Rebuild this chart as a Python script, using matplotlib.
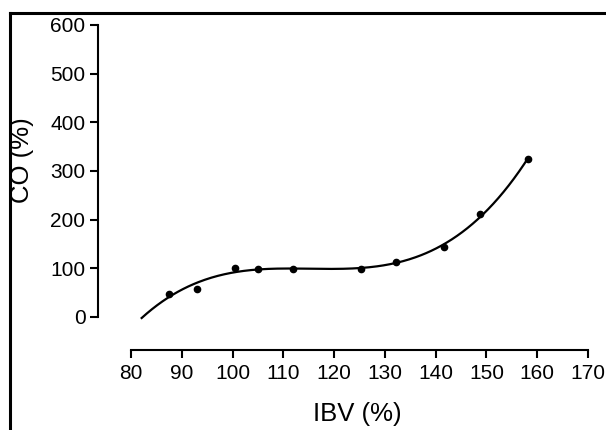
import numpy as np
import matplotlib
matplotlib.use("Agg")
import matplotlib.pyplot as plt
from matplotlib.lines import Line2D

# Data
ibv = [87.5, 93.0, 100.4, 105.0, 112.0, 125.2, 132.2, 141.7, 148.7, 158.2]
co = [47, 57, 100, 99, 99, 99, 113, 144, 211, 325]
curve_range = [82.1, 158.2]
x_ticks = [80, 90, 100, 110, 120, 130, 140, 150, 160, 170]
y_ticks = [0, 100, 200, 300, 400, 500, 600]

plt.rcParams['font.family'] = ['Liberation Sans', 'DejaVu Sans']

W, H = 606, 430
fig = plt.figure(figsize=(W / 100, H / 100), dpi=100)
ax = fig.add_axes([131 / W, 1 - 317 / H, (588 - 131) / W, (317 - 25) / H])

# cubic fit of the points
coef = np.polyfit(ibv, co, 3)
xs = np.linspace(curve_range[0], curve_range[1], 300)
ax.plot(xs, np.polyval(coef, xs), color='black', lw=1.6, clip_on=False, zorder=2)
ax.plot(ibv, co, 'o', color='black', ms=4.5, clip_on=False, zorder=3)

ax.set_xlim(80, 170)
ax.set_ylim(0, 600)
ax.set_xticks(x_ticks)
ax.set_yticks(y_ticks)

for s in ['top', 'right']:
    ax.spines[s].set_visible(False)
ax.spines['left'].set_position(('outward', 23.8))
ax.spines['bottom'].set_position(('outward', 23.8))
for s in ['left', 'bottom']:
    ax.spines[s].set_linewidth(1.5)
ax.tick_params(axis='both', direction='out', length=6, width=1.5,
               labelsize=15, colors='black')
ax.tick_params(axis='y', pad=3)
ax.tick_params(axis='x', pad=4)

fig.text(357 / W, 1 - 414 / H, 'IBV (%)', fontsize=18.5, ha='center', va='center')
fig.text(22 / W, 1 - 160 / H, 'CO (%)', fontsize=18.5, ha='center', va='center',
         rotation=90)

# frame lines at left and top of the image
fig.add_artist(Line2D([10 / W, 10 / W], [0, 1 - 13 / H], transform=fig.transFigure,
                      color='black', lw=2.2, solid_capstyle='projecting'))
fig.add_artist(Line2D([10 / W, 1], [1 - 13 / H, 1 - 13 / H], transform=fig.transFigure,
                      color='black', lw=2.2, solid_capstyle='projecting'))

fig.savefig('out.png', dpi=100)
